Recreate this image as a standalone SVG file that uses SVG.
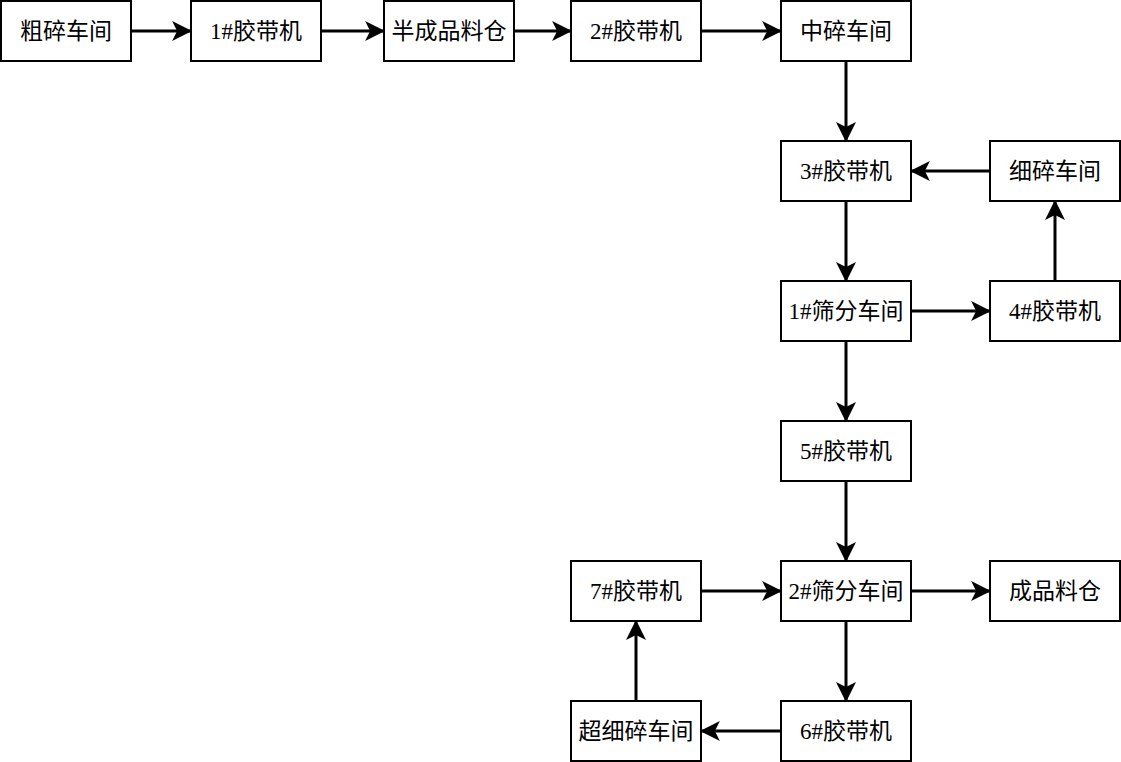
<svg xmlns="http://www.w3.org/2000/svg" width="1121" height="762" viewBox="0 0 1121 762">
<style>
.box rect{fill:#fff;stroke:#000;stroke-width:2}
.box text{font-family:"Liberation Serif","Noto Sans CJK SC",serif;font-size:23px;fill:#000;text-anchor:middle;dominant-baseline:central}
.conn path{fill:none;stroke:#000;stroke-width:3}
</style>
<defs>
<marker id="ah" markerUnits="userSpaceOnUse" markerWidth="20" markerHeight="20" viewBox="0 0 18 18" refX="17" refY="9" orient="auto">
<path d="M0,0 L18,9 L0,18 L4.5,9 Z" fill="#000"/>
</marker>
</defs>
<g class="conn">
<path d="M131,31 H191" marker-end="url(#ah)"/>
<path d="M321,31 H384" marker-end="url(#ah)"/>
<path d="M514,31 H571" marker-end="url(#ah)"/>
<path d="M701,31 H781" marker-end="url(#ah)"/>
<path d="M846,61 V141" marker-end="url(#ah)"/>
<path d="M990,171 H911" marker-end="url(#ah)"/>
<path d="M846,201 V281" marker-end="url(#ah)"/>
<path d="M911,311 H990" marker-end="url(#ah)"/>
<path d="M1055,281 V201" marker-end="url(#ah)"/>
<path d="M846,341 V421" marker-end="url(#ah)"/>
<path d="M846,481 V561" marker-end="url(#ah)"/>
<path d="M701,591 H781" marker-end="url(#ah)"/>
<path d="M911,591 H990" marker-end="url(#ah)"/>
<path d="M846,621 V701" marker-end="url(#ah)"/>
<path d="M781,731 H701" marker-end="url(#ah)"/>
<path d="M636,701 V621" marker-end="url(#ah)"/>
</g>
<g id="n1" class="box"><rect x="1" y="1" width="130" height="60"/><text x="66" y="31">粗碎车间</text></g>
<g id="n2" class="box"><rect x="191" y="1" width="130" height="60"/><text x="256" y="31">1#胶带机</text></g>
<g id="n3" class="box"><rect x="384" y="1" width="130" height="60"/><text x="449" y="31">半成品料仓</text></g>
<g id="n4" class="box"><rect x="571" y="1" width="130" height="60"/><text x="636" y="31">2#胶带机</text></g>
<g id="n5" class="box"><rect x="781" y="1" width="130" height="60"/><text x="846" y="31">中碎车间</text></g>
<g id="n6" class="box"><rect x="781" y="141" width="130" height="60"/><text x="846" y="171">3#胶带机</text></g>
<g id="n7" class="box"><rect x="990" y="141" width="130" height="60"/><text x="1055" y="171">细碎车间</text></g>
<g id="n8" class="box"><rect x="781" y="281" width="130" height="60"/><text x="846" y="311">1#筛分车间</text></g>
<g id="n9" class="box"><rect x="990" y="281" width="130" height="60"/><text x="1055" y="311">4#胶带机</text></g>
<g id="n10" class="box"><rect x="781" y="421" width="130" height="60"/><text x="846" y="451">5#胶带机</text></g>
<g id="n11" class="box"><rect x="781" y="561" width="130" height="60"/><text x="846" y="591">2#筛分车间</text></g>
<g id="n12" class="box"><rect x="990" y="561" width="130" height="60"/><text x="1055" y="591">成品料仓</text></g>
<g id="n13" class="box"><rect x="571" y="561" width="130" height="60"/><text x="636" y="591">7#胶带机</text></g>
<g id="n14" class="box"><rect x="781" y="701" width="130" height="60"/><text x="846" y="731">6#胶带机</text></g>
<g id="n15" class="box"><rect x="571" y="701" width="130" height="60"/><text x="636" y="731">超细碎车间</text></g>
</svg>
